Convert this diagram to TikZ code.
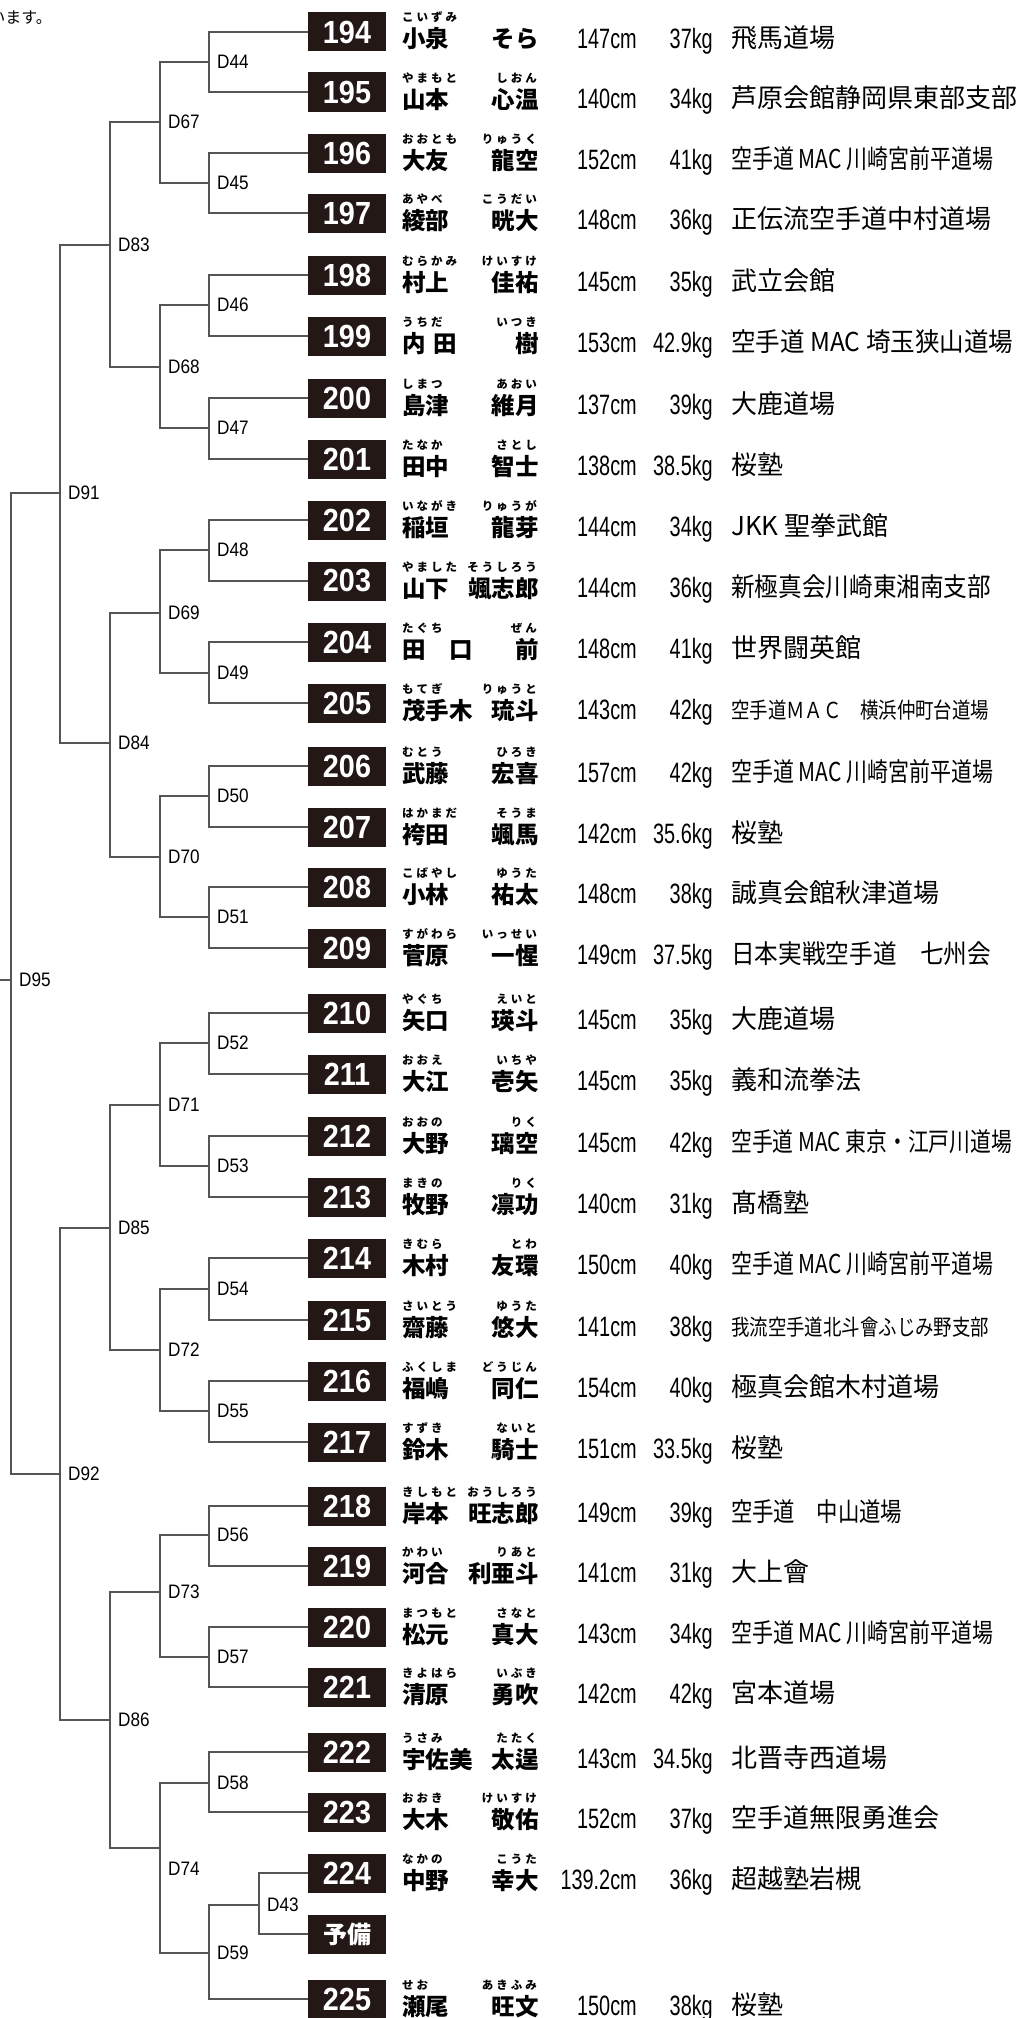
\documentclass[tikz,border=0pt]{standalone}
\usepackage{fontspec}
\usepackage{graphicx}
\usetikzlibrary{positioning}
\newfontfamily\jp{Noto Sans CJK JP}
\newfontfamily\numfont[FakeStretch=0.9]{Liberation Sans}
\newfontfamily\dfont[FakeStretch=0.88]{Liberation Sans}
\newfontfamily\mfont[FakeStretch=0.71]{Liberation Sans}
\definecolor{boxblack}{HTML}{231815}
\definecolor{linegray}{HTML}{555555}
\newcommand\clubfit[2]{\ifdim#1pt>0pt\resizebox{#1pt}{\height}{#2}\else#2\fi}
\newcommand\spaced[1]{\edef\rubytext{#1}\expandafter\spacedfirst\rubytext\relax}
\def\spacedfirst#1{\ifx#1\relax\else#1\expandafter\spacedrest\fi}
\def\spacedrest#1{\ifx#1\relax\else\kern3pt#1\expandafter\spacedrest\fi}

\begin{document}
\begin{tikzpicture}[x=1pt, y=-1pt,
    numbox/.style={fill=boxblack, text=white, minimum width=78pt, minimum height=39pt, inner sep=0pt, font=\numfont\bfseries\fontsize{32}{32}\selectfont},
    namefont/.style={inner sep=0pt, font=\jp\bfseries\fontsize{23.5}{23.5}\selectfont},
    ruby/.style={inner sep=0pt, font=\jp\bfseries\fontsize{11.5}{11.5}\selectfont},
    meas/.style={inner sep=0pt, anchor=base east, font=\mfont\fontsize{28}{28}\selectfont},
    clubtext/.style={inner sep=0pt, anchor=base west, font=\jp\fontsize{26}{26}\selectfont},
    link/.style={draw=linegray, line width=1.3pt},
    dlabel/.style={inner sep=0pt, font=\dfont\fontsize{19.5}{19.5}\selectfont}]
    \useasboundingbox (0,0) rectangle (1016,2018);

    \node[anchor=base east, inner sep=0pt, font=\jp\fontsize{16}{16}\selectfont] (note) at (52,24) {います。};

    \foreach \num/\y/\fam/\famr/\giv/\givr/\hgt/\wgt/\cw/\club in {
        194/32/小泉/こいずみ/そら/{}/147/37/0/飛馬道場,
        195/92/山本/やまもと/心温/しおん/140/34/0/芦原会館静岡県東部支部,
        196/153/大友/おおとも/龍空/りゅうく/152/41/262/{空手道 MAC 川崎宮前平道場},
        197/213/綾部/あやべ/晄大/こうだい/148/36/0/正伝流空手道中村道場,
        198/275/村上/むらかみ/佳祐/けいすけ/145/35/0/武立会館,
        199/336/{内\hspace{8pt}田}/うちだ/樹/いつき/153/42.9/282/{空手道 MAC 埼玉狭山道場},
        200/398/島津/しまつ/維月/あおい/137/39/0/大鹿道場,
        201/459/田中/たなか/智士/さとし/138/38.5/0/桜塾,
        202/520/稲垣/いながき/龍芽/りゅうが/144/34/0/{JKK 聖拳武館},
        203/581/山下/やました/颯志郎/そうしろう/144/36/260/新極真会川崎東湘南支部,
        204/642/田　口/たぐち/前/ぜん/148/41/0/世界闘英館,
        205/703/茂手木/もてぎ/琉斗/りゅうと/143/42/258/{\fontsize{22}{22}\selectfont 空手道ＭＡＣ　横浜仲町台道場},
        206/766/武藤/むとう/宏喜/ひろき/157/42/262/{空手道 MAC 川崎宮前平道場},
        207/827/袴田/はかまだ/颯馬/そうま/142/35.6/0/桜塾,
        208/887/小林/こばやし/祐太/ゆうた/148/38/0/誠真会館秋津道場,
        209/948/菅原/すがわら/一惺/いっせい/149/37.5/260/日本実戦空手道　七州会,
        210/1013/矢口/やぐち/瑛斗/えいと/145/35/0/大鹿道場,
        211/1074/大江/おおえ/壱矢/いちや/145/35/0/義和流拳法,
        212/1136/大野/おおの/璃空/りく/145/42/281/{空手道 MAC 東京・江戸川道場},
        213/1197/牧野/まきの/凛功/りく/140/31/0/髙橋塾,
        214/1258/木村/きむら/友環/とわ/150/40/262/{空手道 MAC 川崎宮前平道場},
        215/1320/齋藤/さいとう/悠大/ゆうた/141/38/258/{\fontsize{22}{22}\selectfont 我流空手道北斗會ふじみ野支部},
        216/1381/福嶋/ふくしま/同仁/どうじん/154/40/0/極真会館木村道場,
        217/1442/鈴木/すずき/騎士/ないと/151/33.5/0/桜塾,
        218/1506/岸本/きしもと/旺志郎/おうしろう/149/39/171/空手道　中山道場,
        219/1566/河合/かわい/利亜斗/りあと/141/31/0/大上會,
        220/1627/松元/まつもと/真大/さなと/143/34/262/{空手道 MAC 川崎宮前平道場},
        221/1687/清原/きよはら/勇吹/いぶき/142/42/0/宮本道場,
        222/1752/宇佐美/うさみ/太逞/たたく/143/34.5/0/北晋寺西道場,
        223/1812/大木/おおき/敬佑/けいすけ/152/37/0/空手道無限勇進会,
        224/1873/中野/なかの/幸大/こうた/139.2/36/0/超越塾岩槻,
        225/1999/瀬尾/せお/旺文/あきふみ/150/38/0/桜塾}{
        \node[numbox] (p\num) at (347,\y) {\num};
        \node[namefont, anchor=base west] (fam\num) at (402,\y+16) {\fam};
        \node[namefont, anchor=base east] (giv\num) at (539,\y+16) {\giv};
        \node[ruby, anchor=base west] (famr\num) at (402,\y-10) {\spaced{\famr}};
        \node[ruby, anchor=base east] (givr\num) at (537,\y-10) {\spaced{\givr}};
        \node[meas] (h\num) at (637,\y+16.5) {\hgt cm};
        \node[meas] (w\num) at (713,\y+16.5) {\wgt kg};
        \node[clubtext] (c\num) at (731,\y+15.5) {\clubfit{\cw}{\club}};
    }
    \node[numbox, font=\jp\bfseries\fontsize{24}{24}\selectfont] (pyobi) at (347,1934) {予備};

    \coordinate (root) at (0,980);
    \coordinate (d95) at (11,980);
    \coordinate (d91) at (60,493);
    \coordinate (d92) at (60,1474);
    \coordinate (d83) at (110,245);
    \coordinate (d84) at (110,743);
    \coordinate (d85) at (110,1228);
    \coordinate (d86) at (110,1720);
    \coordinate (d67) at (160,122);
    \coordinate (d68) at (160,367);
    \coordinate (d69) at (160,613);
    \coordinate (d70) at (160,857);
    \coordinate (d71) at (160,1105);
    \coordinate (d72) at (160,1350);
    \coordinate (d73) at (160,1592);
    \coordinate (d74) at (160,1848);
    \coordinate (d44) at (209,62);
    \coordinate (d45) at (209,183);
    \coordinate (d46) at (209,305);
    \coordinate (d47) at (209,428);
    \coordinate (d48) at (209,550);
    \coordinate (d49) at (209,673);
    \coordinate (d50) at (209,796);
    \coordinate (d51) at (209,917);
    \coordinate (d52) at (209,1043);
    \coordinate (d53) at (209,1166);
    \coordinate (d54) at (209,1289);
    \coordinate (d55) at (209,1411);
    \coordinate (d56) at (209,1535);
    \coordinate (d57) at (209,1657);
    \coordinate (d58) at (209,1783);
    \coordinate (d59) at (209,1953);
    \coordinate (d43) at (259,1905);

    \foreach \a/\b/\d in {194/195/44, 196/197/45, 198/199/46, 200/201/47, 202/203/48, 204/205/49, 206/207/50, 208/209/51,
        210/211/52, 212/213/53, 214/215/54, 216/217/55, 218/219/56, 220/221/57, 222/223/58, 224/yobi/43}
        \draw[link] (p\a.west) -| (d\d) |- (p\b.west);
    \draw[link] (d43) -| (d59) |- (p225.west);
    \foreach \a/\b/\d in {44/45/67, 46/47/68, 48/49/69, 50/51/70, 52/53/71, 54/55/72, 56/57/73, 58/59/74,
        67/68/83, 69/70/84, 71/72/85, 73/74/86, 83/84/91, 85/86/92, 91/92/95}
        \draw[link] (d\a) -| (d\d) |- (d\b);
    \draw[link] (root) -- (d95);

    \foreach \d in {43,44,...,59,67,68,...,73,83,84,85,86,91,92,95}
        \node[dlabel, right=8pt of d\d] (l\d) {D\d};
    \node[dlabel, anchor=west] (l74) at (168,1869) {D74};
\end{tikzpicture}
\end{document}
